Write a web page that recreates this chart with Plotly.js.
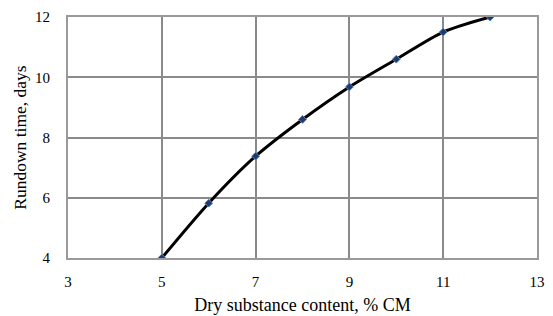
<!DOCTYPE html>
<html>
<head>
<meta charset="utf-8">
<script src="https://cdn.plot.ly/plotly-3.0.1.min.js"></script>
<style>html,body{margin:0;padding:0;background:#fff;}#chart{width:553px;height:316px;}</style>
</head>
<body>
<div id="chart"></div>
<script>
const drySubstance = [5, 6, 7, 8, 9, 10, 11, 12];
const rundownTime = [4, 5.82, 7.38, 8.6, 9.68, 10.6, 11.5, 12];
const xTicks = [3, 5, 7, 9, 11, 13];
const yTicks = [4, 6, 8, 10, 12];

const trace = {
  x: drySubstance,
  y: rundownTime,
  mode: 'lines+markers',
  line: {color: '#000', width: 3, shape: 'spline', smoothing: 0.8},
  marker: {symbol: 'diamond', size: 6, color: '#1f3a6e', line: {color: '#4a86c8', width: 1}},
  hoverinfo: 'skip'
};

const fontFam = '"Liberation Serif", "Times New Roman", serif';
const layout = {
  width: 553, height: 316,
  margin: {l: 68, r: 16, t: 17, b: 58},
  paper_bgcolor: '#fff', plot_bgcolor: '#fff',
  showlegend: false,
  font: {family: fontFam, size: 15, color: '#000'},
  xaxis: {
    range: [3, 13], tickvals: xTicks, ticktext: xTicks.map(String),
    showgrid: true, gridcolor: '#8a8a8a', gridwidth: 2,
    showline: true, linecolor: '#9a9a9a', linewidth: 2, mirror: true,
    zeroline: false, ticks: '', ticklen: 0, ticklabelstandoff: 9,
    tickfont: {family: fontFam, size: 15},
    title: {text: 'Dry substance content, % CM', font: {family: fontFam, size: 18}, standoff: 9}
  },
  yaxis: {
    range: [4, 12], tickvals: yTicks, ticktext: yTicks.map(String),
    showgrid: true, gridcolor: '#8a8a8a', gridwidth: 2,
    showline: true, linecolor: '#9a9a9a', linewidth: 2, mirror: true,
    zeroline: false, ticks: '', ticklen: 0, ticklabelstandoff: 13,
    tickfont: {family: fontFam, size: 15},
    title: {text: 'Rundown time, days', font: {family: fontFam, size: 17.5}, standoff: 4}
  }
};

Plotly.newPlot('chart', [trace], layout, {staticPlot: true, displayModeBar: false});
</script>
</body>
</html>
